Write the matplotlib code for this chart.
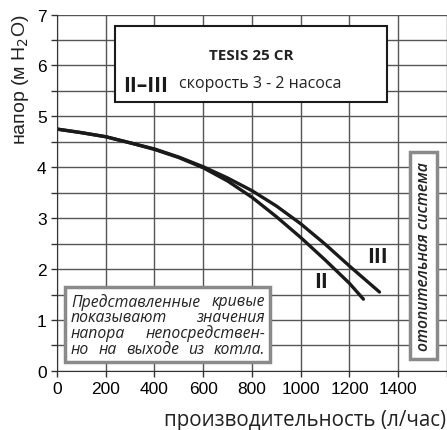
import numpy as np
import matplotlib
matplotlib.use('Agg')
import matplotlib.pyplot as plt
from matplotlib.patches import Rectangle

# Данные кривых (л/час, м H2O)
q_II = [0, 100, 200, 300, 400, 500, 600, 700, 800, 900, 1000, 1100, 1200, 1257]
h_II = [4.75, 4.68, 4.60, 4.48, 4.35, 4.19, 3.99, 3.73, 3.41, 3.03, 2.62, 2.18, 1.72, 1.41]
q_III = [0, 100, 200, 300, 400, 500, 600, 700, 800, 900, 1000, 1100, 1200, 1323]
h_III = [4.75, 4.68, 4.60, 4.48, 4.36, 4.20, 4.01, 3.79, 3.54, 3.24, 2.89, 2.49, 2.06, 1.55]

x_ticks = [0, 200, 400, 600, 800, 1000, 1200, 1400]
y_ticks = [0, 1, 2, 3, 4, 5, 6, 7]

fig = plt.figure(figsize=(4.47, 4.31), dpi=100)
ax = fig.add_axes([0.1275, 0.137, 0.8725, 0.827])
ax.set_xlim(0, 1600)
ax.set_ylim(0, 7)

ax.set_xticks(x_ticks)
ax.set_xticks([1600], minor=True)
ax.set_yticks(y_ticks)
ax.set_yticks(np.arange(0.5, 7, 1.0), minor=True)
ax.set_xticklabels([str(v) for v in x_ticks], fontfamily='Liberation Sans', fontsize=12.5)
ax.set_yticklabels([str(v) for v in y_ticks], fontfamily='Liberation Sans', fontsize=12.5)
ax.tick_params(which='both', direction='out', length=4, width=1, color='#333')
ax.tick_params(axis='x', pad=3)
ax.grid(True, which='both', color='#555', lw=1)
ax.set_axisbelow(True)
for s in ['top', 'right']:
    ax.spines[s].set_visible(False)
ax.spines['left'].set_color('#333')
ax.spines['bottom'].set_color('#333')

ax.plot(q_II, h_II, color='#1a1a1a', lw=2.4, solid_capstyle='round', solid_joinstyle='round')
ax.plot(q_III, h_III, color='#1a1a1a', lw=2.4, solid_capstyle='round', solid_joinstyle='round')

ax.text(1084, 1.75, 'II', fontsize=15, fontweight='bold', fontfamily='Open Sans', color='#1a1a1a', ha='center', va='center')
ax.text(1314, 2.24, 'III', fontsize=15, fontweight='bold', fontfamily='Open Sans', color='#1a1a1a', ha='center', va='center')

# Рамка с названием
ax.add_patch(Rectangle((238, 5.29), 1117, 1.48, facecolor='white', edgecolor='#1a1a1a', lw=1.5, zorder=3))
ax.text(795, 6.2, 'TESIS 25 CR', fontsize=11, fontweight='bold', fontfamily='Open Sans', color='#222', ha='center', va='center', zorder=4)
ax.text(270, 5.6, 'II–III', fontsize=15, fontweight='bold', fontfamily='Open Sans', color='#1a1a1a', ha='left', va='center', zorder=4)
ax.text(500, 5.65, 'скорость 3 - 2 насоса', fontsize=11.5, fontfamily='Open Sans', color='#222', ha='left', va='center', zorder=4)

# Примечание
ax.add_patch(Rectangle((33, 0.18), 842, 1.47, facecolor='white', edgecolor='#8a8a8a', lw=2.5, zorder=3))
note_lines = [['Представленные', 'кривые'],
              ['показывают', 'значения'],
              ['напора', 'непосредствен-'],
              ['но', 'на', 'выходе', 'из', 'котла.']]
fig.canvas.draw()
renderer = fig.canvas.get_renderer()
x0_px = ax.transData.transform((57, 0))[0]
x1_px = ax.transData.transform((853, 0))[0]
inv = ax.transData.inverted()
for i, words in enumerate(note_lines):
    y = 1.37 - i * 0.31
    txts = [ax.text(0, y, w, fontsize=11.3, fontstyle='italic', fontfamily='Open Sans', color='#222',
                    ha='left', va='center', zorder=4) for w in words]
    widths = [t.get_window_extent(renderer).width for t in txts]
    gap = (x1_px - x0_px - sum(widths)) / (len(words) - 1)
    xp = x0_px
    for t, w in zip(txts, widths):
        t.set_x(inv.transform((xp, 0))[0])
        xp += w + gap

# Вертикальная подпись справа
ax.add_patch(Rectangle((1449, 0.24), 111, 4.06, facecolor='white', edgecolor='#8a8a8a', lw=2.5, zorder=3))
ax.text(1506, 2.27, 'отопительная система', fontsize=11.3, fontstyle='italic', fontweight='semibold', fontfamily='Open Sans',
        color='#222', rotation=90, ha='center', va='center', zorder=4)

fig.text(0.045, 1 - 80 / 431, 'напор (м H$_2$O)', rotation=90, fontsize=14, fontfamily='Liberation Sans',
         ha='center', va='center', color='#222')
fig.text(1 - 1 / 447, 1 - 421 / 431, 'производительность (л/час)', fontsize=14.8, fontfamily='Open Sans',
         ha='right', va='center', color='#222')

fig.savefig('out.png', dpi=100)
